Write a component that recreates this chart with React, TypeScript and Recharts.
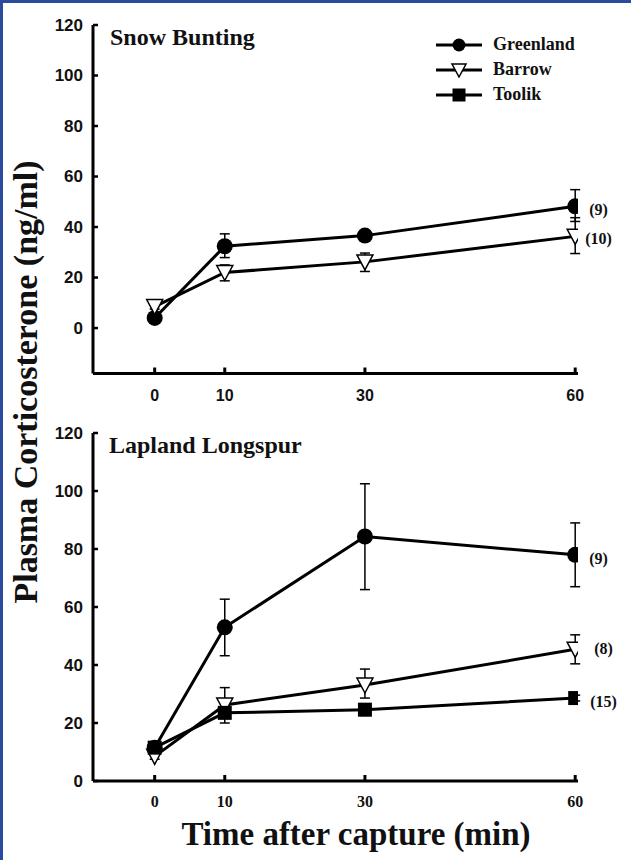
import React from 'react';
import { LineChart, Line, XAxis, YAxis, ErrorBar, Legend } from 'recharts';

const minutes = [0, 10, 30, 60];
const xTicks = [0, 10, 30, 60];
const yTicks = [0, 20, 40, 60, 80, 100, 120];
const siteOrder = ['Greenland', 'Barrow', 'Toolik'];

// Snow Bunting (top panel)
const sbGreenland = [4, 32.4, 36.6, 48.2];
const sbGreenlandErr = [[1, 1], [4.5, 4.9], [1.5, 1.5], [6, 6.6]];
const sbBarrow = [8.5, 22, 26.2, 36.3];
const sbBarrowErr = [[1, 1], [3.3, 3], [3.8, 3.5], [6.8, 7.4]];
const sbN = ['(9)', '(10)'];

// Lapland Longspur (bottom panel)
const llGreenland = [11.5, 53, 84.3, 78];
const llGreenlandErr = [[1.5, 1.5], [9.8, 9.7], [18.3, 18.2], [11, 11]];
const llBarrow = [8.5, 26.2, 33.1, 45.4];
const llBarrowErr = [[1, 1], [4, 6], [4.5, 5.5], [5, 5]];
const llToolik = [11.5, 23.5, 24.6, 28.6];
const llToolikErr = [[1.5, 1.5], [3.5, 3.5], [2, 2], [1, 1]];
const llN = ['(9)', '(8)', '(15)'];

const SERIF = "'Liberation Serif', 'Times New Roman', serif";
const SANS = "'Liberation Sans', Arial, sans-serif";

const sbData = minutes.map((m, i) => ({
  m,
  greenland: sbGreenland[i],
  gErr: sbGreenlandErr[i],
  barrow: sbBarrow[i],
  bErr: sbBarrowErr[i],
}));

const llData = minutes.map((m, i) => ({
  m,
  greenland: llGreenland[i],
  gErr: llGreenlandErr[i],
  barrow: llBarrow[i],
  bErr: llBarrowErr[i],
  toolik: llToolik[i],
  tErr: llToolikErr[i],
}));

const circleDot = (p: any) =>
  p.cy == null ? <g key={p.index} /> : <circle key={p.index} cx={p.cx} cy={p.cy} r={8} fill="#000" />;

const triangleDot = (p: any) =>
  p.cy == null ? (
    <g key={p.index} />
  ) : (
    <polygon
      key={p.index}
      points={`${p.cx - 8},${p.cy - 7} ${p.cx + 8},${p.cy - 7} ${p.cx},${p.cy + 8}`}
      fill="#fff"
      stroke="#000"
      strokeWidth={1.5}
    />
  );

const squareDot = (p: any) =>
  p.cy == null ? <g key={p.index} /> : <rect key={p.index} x={p.cx - 7} y={p.cy - 7} width={14} height={14} fill="#000" />;

const endLabel = (text: string, dx: number, dy: number) => (p: any) =>
  p.index === 3 ? (
    <text key="n" x={p.x + dx} y={p.y + dy} fontFamily={SERIF} fontWeight="bold" fontSize={16} dominantBaseline="central" fill="#111">
      {text}
    </text>
  ) : (
    <g key={p.index} />
  );

const XTick = ({ x, y, payload, font, size, offset }: any) => (
  <g>
    <line x1={x} y1={y} x2={x} y2={y - 6} stroke="#000" strokeWidth={3} />
    <text x={x} y={y + offset} textAnchor="middle" dominantBaseline="central" fontFamily={font} fontWeight="bold" fontSize={size} fill="#111">
      {payload.value}
    </text>
  </g>
);

const YTick = ({ x, y, payload }: any) => (
  <g>
    <line x1={x} y1={y} x2={x + 5} y2={y} stroke="#000" strokeWidth={2.5} />
    <text x={x - 10} y={y} textAnchor="end" dominantBaseline="central" fontFamily={SANS} fontWeight="bold" fontSize={17} fill="#111">
      {payload.value}
    </text>
  </g>
);

const legendShape: Record<string, (cx: number, cy: number) => React.ReactNode> = {
  Greenland: (cx, cy) => <circle cx={cx} cy={cy} r={6.5} fill="#000" />,
  Barrow: (cx, cy) => (
    <polygon points={`${cx - 7},${cy - 6} ${cx + 7},${cy - 6} ${cx},${cy + 7}`} fill="#fff" stroke="#000" strokeWidth={1.5} />
  ),
  Toolik: (cx, cy) => <rect x={cx - 6.5} y={cy - 6.5} width={13} height={13} fill="#000" />,
};

const LegendBox = ({ payload }: any) => {
  const items = [...(payload || [])].sort((a: any, b: any) => siteOrder.indexOf(a.value) - siteOrder.indexOf(b.value));
  return (
    <div>
      {items.map((e: any) => (
        <div key={e.value} style={{ display: 'flex', alignItems: 'center', height: 25 }}>
          <svg width={46} height={18} style={{ display: 'block' }}>
            <line x1={0} y1={9} x2={46} y2={9} stroke="#000" strokeWidth={3} />
            {legendShape[e.value]?.(23, 9)}
          </svg>
          <span style={{ marginLeft: 11, fontFamily: SERIF, fontWeight: 'bold', fontSize: 18, color: '#111' }}>{e.value}</span>
        </div>
      ))}
    </div>
  );
};

const axisLine = { stroke: '#000', strokeWidth: 3 };

export default function App() {
  return (
    <div style={{ position: 'absolute', left: 0, top: 0, width: 631, height: 860, background: '#fff', overflow: 'hidden' }}>
      <div style={{ position: 'absolute', left: 0, top: 0 }}>
        <LineChart width={631} height={410} data={sbData} margin={{ top: 25, right: 53, left: 33, bottom: 0.5 }}>
          <XAxis
            dataKey="m"
            type="number"
            domain={[-8.8, 60.4]}
            ticks={xTicks}
            allowDataOverflow
            axisLine={axisLine}
            tickLine={false}
            tickSize={0}
            tickMargin={0}
            height={36}
            tick={<XTick font={SANS} size={16} offset={22} />}
          />
          <YAxis
            type="number"
            domain={[-18, 120]}
            ticks={yTicks}
            allowDataOverflow
            axisLine={axisLine}
            tickLine={false}
            tickSize={0}
            tickMargin={0}
            width={60}
            tick={<YTick />}
          />
          <Legend
            layout="vertical"
            align="center"
            verticalAlign="middle"
            wrapperStyle={{ left: 436, top: 32, width: 180 }}
            content={<LegendBox />}
          />
          <Line dataKey="greenland" name="Greenland" stroke="#000" strokeWidth={3} dot={circleDot} isAnimationActive={false} label={endLabel(sbN[0], 14, 3)}>
            <ErrorBar dataKey="gErr" direction="y" width={5} stroke="#000" strokeWidth={1.5} />
          </Line>
          <Line dataKey="barrow" name="Barrow" stroke="#000" strokeWidth={3} dot={triangleDot} isAnimationActive={false} label={endLabel(sbN[1], 10, 2)}>
            <ErrorBar dataKey="bErr" direction="y" width={5} stroke="#000" strokeWidth={1.5} />
          </Line>
          <Line dataKey="toolik" name="Toolik" stroke="#000" strokeWidth={3} dot={squareDot} isAnimationActive={false} />
        </LineChart>
      </div>

      <div style={{ position: 'absolute', left: 0, top: 400 }}>
        <LineChart width={631} height={420} data={llData} margin={{ top: 33, right: 53, left: 33, bottom: 3 }}>
          <XAxis
            dataKey="m"
            type="number"
            domain={[-8.8, 60.4]}
            ticks={xTicks}
            allowDataOverflow
            axisLine={axisLine}
            tickLine={false}
            tickSize={0}
            tickMargin={0}
            height={36}
            tick={<XTick font={SERIF} size={16} offset={20} />}
          />
          <YAxis
            type="number"
            domain={[0, 120]}
            ticks={yTicks}
            allowDataOverflow
            axisLine={axisLine}
            tickLine={false}
            tickSize={0}
            tickMargin={0}
            width={60}
            tick={<YTick />}
          />
          <Line dataKey="greenland" name="Greenland" stroke="#000" strokeWidth={3} dot={circleDot} isAnimationActive={false} label={endLabel(llN[0], 14, 4)}>
            <ErrorBar dataKey="gErr" direction="y" width={5} stroke="#000" strokeWidth={1.5} />
          </Line>
          <Line dataKey="barrow" name="Barrow" stroke="#000" strokeWidth={3} dot={triangleDot} isAnimationActive={false} label={endLabel(llN[1], 19, -1)}>
            <ErrorBar dataKey="bErr" direction="y" width={5} stroke="#000" strokeWidth={1.5} />
          </Line>
          <Line dataKey="toolik" name="Toolik" stroke="#000" strokeWidth={3} dot={squareDot} isAnimationActive={false} label={endLabel(llN[2], 15, 3)}>
            <ErrorBar dataKey="tErr" direction="y" width={5} stroke="#000" strokeWidth={1.5} />
          </Line>
        </LineChart>
      </div>

      <svg width={631} height={860} style={{ position: 'absolute', left: 0, top: 0, pointerEvents: 'none' }}>
        <text x={110} y={45} fontFamily={SERIF} fontWeight="bold" fontSize={24} fill="#111">Snow Bunting</text>
        <text x={109} y={453} fontFamily={SERIF} fontWeight="bold" fontSize={24} fill="#111">Lapland Longspur</text>
        <text x={37} y={382} transform="rotate(-90, 37, 382)" textAnchor="middle" fontFamily={SERIF} fontWeight="bold" fontSize={34} fill="#111">
          Plasma Corticosterone (ng/ml)
        </text>
        <text x={356} y={845} textAnchor="middle" fontFamily={SERIF} fontWeight="bold" fontSize={33} fill="#111">
          Time after capture (min)
        </text>
      </svg>

      <div style={{ position: 'absolute', left: 0, top: 0, width: 631, height: 3, background: '#2c4a9e' }} />
      <div style={{ position: 'absolute', left: 0, top: 0, width: 3, height: 860, background: '#2c4a9e' }} />
    </div>
  );
}
